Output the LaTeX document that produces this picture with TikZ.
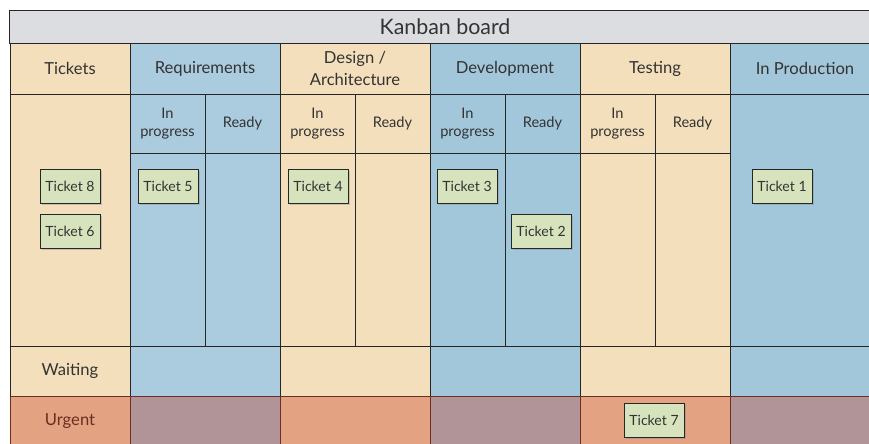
\documentclass[tikz,border=0pt]{standalone}
\usepackage{fontspec}
\setmainfont{Lato}
\usetikzlibrary{shadows}
\definecolor{titlegray}{HTML}{DCDDE0}
\definecolor{beige}{HTML}{F4DFBC}
\definecolor{reqblue}{HTML}{ABCBDF}
\definecolor{devblue}{HTML}{A3C7DA}
\definecolor{urgorange}{HTML}{E3A383}
\definecolor{urgmauve}{HTML}{B09497}
\definecolor{ticketgreen}{HTML}{D7E3BD}
\definecolor{inkgray}{HTML}{333333}
\definecolor{urgink}{HTML}{6B2E20}
\tikzset{
  cell/.style={draw=black!85, line width=0.6pt, inner sep=0pt, align=center,
    text=inkgray, font=\fontsize{11.8}{15}\selectfont},
  subcell/.style={cell, minimum width=1.875cm, minimum height=1.475cm,
    font=\fontsize{10.4}{12.8}\selectfont},
  lane/.style={cell, minimum width=1.875cm, minimum height=4.825cm},
  rowcell/.style={cell, minimum width=3.75cm, minimum height=1.25cm},
  ticket/.style={draw=black!85, line width=0.6pt, fill=ticketgreen, text=inkgray,
    minimum width=1.5cm, minimum height=0.85cm, inner sep=0pt,
    font=\fontsize{10}{12}\selectfont,
    drop shadow={shadow xshift=1.2pt, shadow yshift=-1.2pt, opacity=0.35}}
}
\begin{document}
\begin{tikzpicture}[x=0.025cm, y=-0.025cm]
                \useasboundingbox (0,0) rectangle (869,444);
                \clip (0,0) rectangle (869,444);

                % Drawing title bar
                \node [cell, fill=titlegray, minimum width=21.75cm, minimum height=0.825cm,
                  font=\fontsize{15.2}{17}\selectfont] (title) at (445,26.5) {Kanban board};

                % Drawing header row
                \node [cell, fill=beige, minimum width=3cm, minimum height=1.275cm] (tickets) at (70,68.5) {Tickets};
                \node [cell, fill=reqblue, minimum width=3.75cm, minimum height=1.275cm] (req) at (205,68.5) {Requirements};
                \node [cell, fill=beige, minimum width=3.75cm, minimum height=1.275cm] (design) at (355,68.5) {Design /\\Architecture};
                \node [cell, fill=devblue, minimum width=3.75cm, minimum height=1.275cm] (dev) at (505,68.5) {Development};
                \node [cell, fill=beige, minimum width=3.75cm, minimum height=1.275cm] (test) at (655,68.5) {Testing};
                \node [cell, fill=devblue, minimum width=3.75cm, minimum height=1.275cm] (prod) at (805,68.5) {In Production};

                % Drawing sub-columns
                \node [subcell, fill=reqblue] (reqprog) at (167.5,123.5) {In\\progress};
                \node [subcell, fill=reqblue] (reqready) at (242.5,123.5) {Ready};
                \node [subcell, fill=beige] (desprog) at (317.5,123.5) {In\\progress};
                \node [subcell, fill=beige] (desready) at (392.5,123.5) {Ready};
                \node [subcell, fill=devblue] (devprog) at (467.5,123.5) {In\\progress};
                \node [subcell, fill=devblue] (devready) at (542.5,123.5) {Ready};
                \node [subcell, fill=beige] (testprog) at (617.5,123.5) {In\\progress};
                \node [subcell, fill=beige] (testready) at (692.5,123.5) {Ready};

                % Drawing lanes
                \node [cell, fill=beige, minimum width=3cm, minimum height=6.3cm] (ticketsbody) at (70,220) {};
                \node [lane, fill=reqblue] (reqproglane) at (167.5,249.5) {};
                \node [lane, fill=reqblue] (reqreadylane) at (242.5,249.5) {};
                \node [lane, fill=beige] (desproglane) at (317.5,249.5) {};
                \node [lane, fill=beige] (desreadylane) at (392.5,249.5) {};
                \node [lane, fill=devblue] (devproglane) at (467.5,249.5) {};
                \node [lane, fill=devblue] (devreadylane) at (542.5,249.5) {};
                \node [lane, fill=beige] (testproglane) at (617.5,249.5) {};
                \node [lane, fill=beige] (testreadylane) at (692.5,249.5) {};
                \node [cell, fill=devblue, minimum width=3.75cm, minimum height=6.3cm] (prodbody) at (805,220) {};

                % Drawing row Waiting
                \node [cell, fill=beige, minimum width=3cm, minimum height=1.25cm] (waiting) at (70,371) {Waiting};
                \node [rowcell, fill=reqblue] (reqwait) at (205,371) {};
                \node [rowcell, fill=beige] (deswait) at (355,371) {};
                \node [rowcell, fill=devblue] (devwait) at (505,371) {};
                \node [rowcell, fill=beige] (testwait) at (655,371) {};
                \node [rowcell, fill=devblue] (prodwait) at (805,371) {};

                % Drawing row Urgent
                \node [cell, draw=urgink, fill=urgorange, text=urgink, minimum width=3cm, minimum height=1.25cm] (urgent) at (70,421) {Urgent};
                \node [rowcell, draw=urgink, fill=urgmauve] (requrg) at (205,421) {};
                \node [rowcell, draw=urgink, fill=urgorange] (desurg) at (355,421) {};
                \node [rowcell, draw=urgink, fill=urgmauve] (devurg) at (505,421) {};
                \node [rowcell, draw=urgink, fill=urgorange] (testurg) at (655,421) {};
                \node [rowcell, draw=urgink, fill=urgmauve] (produrg) at (805,421) {};

                % Placing tickets
                \node [ticket] (t8) at (70,186.5) {Ticket 8};
                \node [ticket] (t6) at (70,231) {Ticket 6};
                \node [ticket] (t5) at (168,186.5) {Ticket 5};
                \node [ticket] (t4) at (318,186.5) {Ticket 4};
                \node [ticket] (t3) at (467,186.5) {Ticket 3};
                \node [ticket] (t2) at (541,231) {Ticket 2};
                \node [ticket] (t1) at (782,186.5) {Ticket 1};
                \node [ticket] (t7) at (654,420) {Ticket 7};
\end{tikzpicture}
\end{document}
